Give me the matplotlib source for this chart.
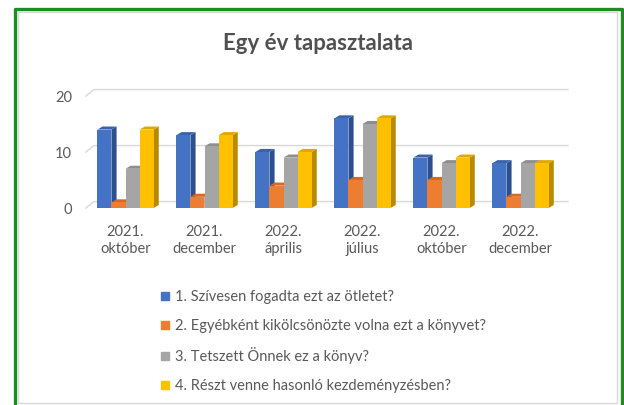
import matplotlib.pyplot as plt
from matplotlib.patches import Polygon, Rectangle
from matplotlib.lines import Line2D

categories = ['2021.\noktóber', '2021.\ndecember', '2022.\náprilis',
              '2022.\njúlius', '2022.\noktóber', '2022.\ndecember']
series_names = ['1. Szívesen fogadta ezt az ötletet?',
                '2. Egyébként kikölcsönözte volna ezt a könyvet?',
                '3. Tetszett Önnek ez a könyv?',
                '4. Részt venne hasonló kezdeményzésben?']
q1 = [14, 13, 10, 16, 9, 8]
q2 = [1, 2, 4, 5, 5, 2]
q3 = [7, 11, 9, 15, 8, 8]
q4 = [14, 13, 10, 16, 9, 8]
yticks = [0, 10, 20]

front = ['#4472C4', '#ED7D31', '#A5A5A5', '#FFC000']
side = ['#2B4F8F', '#B85A1C', '#7A7A7A', '#B88A00']
top = ['#3A63AE', '#D46A25', '#8E8E8E', '#E0A800']
txt = '#595959'

plt.rcParams['font.family'] = ['Lato', 'DejaVu Sans']

W, H = 624, 405
fig = plt.figure(figsize=(W / 100, H / 100), dpi=100)

def px(x0, y0, x1, y1):
    return [x0 / W, 1 - y1 / H, (x1 - x0) / W, (y1 - y0) / H]

ax = fig.add_axes(px(86, 96, 560, 208))
ax.set_xlim(-0.5, 5.5)
ax.set_ylim(0, 20)
for s in ax.spines.values():
    s.set_visible(False)

# depth offsets in data units
bdx, bdy = 0.065, 0.55   # bar depth
wdx, wdy = 0.10, 1.15    # back wall offset

# back wall gridlines
for v in yticks:
    ax.plot([-0.5, -0.5 + wdx, 5.5 + wdx], [v, v + wdy, v + wdy],
            color='#D9D9D9', lw=1, clip_on=False, zorder=1)

data = [q1, q2, q3, q4]
bw = 0.178
for i in range(len(categories)):
    for k, vals in enumerate(data):
        x0 = i - 2 * bw + k * bw
        x1 = x0 + bw
        h = vals[i]
        z = 2 + i * 10 + k
        ax.add_patch(Polygon([[x1, 0], [x1 + bdx, bdy], [x1 + bdx, h + bdy], [x1, h]],
                             closed=True, fc=side[k], ec='none', clip_on=False, zorder=z))
        ax.add_patch(Polygon([[x0, h], [x1, h], [x1 + bdx, h + bdy], [x0 + bdx, h + bdy]],
                             closed=True, fc=top[k], ec='none', clip_on=False, zorder=z))
        ax.add_patch(Rectangle((x0, 0), bw, h, fc=front[k], ec='none',
                               clip_on=False, zorder=z))

ax.set_xticks(range(len(categories)))
ax.set_xticklabels(categories, fontsize=10.5, color=txt, linespacing=1.3)
ax.set_yticks(yticks)
ax.set_yticklabels([str(v) for v in yticks], fontsize=10.5, color=txt)
ax.tick_params(length=0)
ax.tick_params(axis='x', pad=12)
ax.tick_params(axis='y', pad=10)

fig.text(318 / W, 1 - 43 / H, 'Egy év tapasztalata', ha='center', va='center',
         fontsize=16, fontweight='bold', color='#505050')

handles = [Line2D([], [], marker='s', ls='none', markersize=6, color=c) for c in front]
leg = fig.legend(handles, series_names, loc='upper left',
                 bbox_to_anchor=(152 / W, 1 - 283 / H), frameon=False,
                 fontsize=10.5, labelcolor=txt, handlelength=0.8,
                 handletextpad=0.3, labelspacing=1.0, borderpad=0)

# frame
fig.patches.append(Rectangle((18 / W, 1 - 403 / H), 599 / W, 391 / H,
                             transform=fig.transFigure, fill=False,
                             ec='#D9D9D9', lw=1))
fig.add_artist(Line2D([14.5 / W, 14.5 / W, 621.5 / W, 621.5 / W],
                      [0, 1 - 8.5 / H, 1 - 8.5 / H, 0],
                      transform=fig.transFigure, color='#1E8C1E', lw=2.4))

fig.savefig('out.png', dpi=100, facecolor='white')
